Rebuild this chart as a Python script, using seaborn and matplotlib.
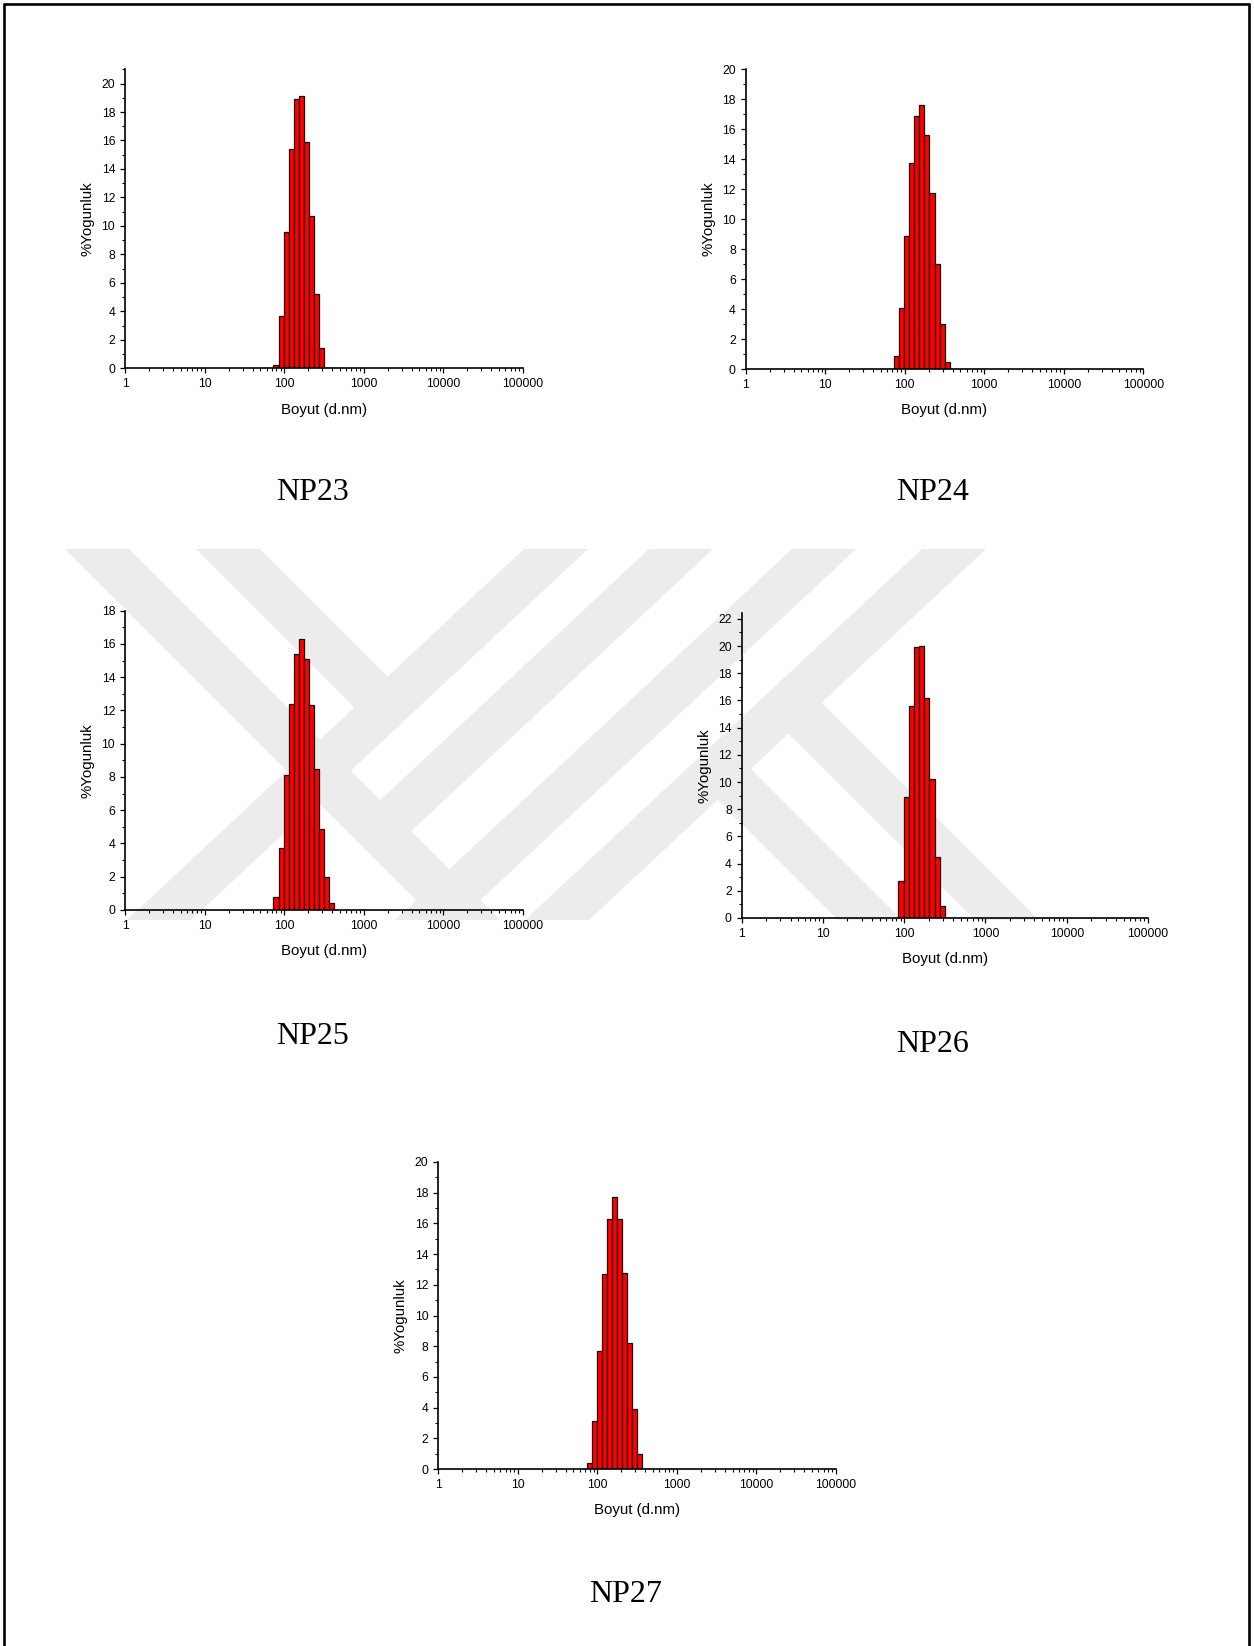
import numpy as np
import pandas as pd
import matplotlib
matplotlib.use("Agg")
import matplotlib.pyplot as plt
import matplotlib.transforms as mtransforms
from matplotlib.patches import Polygon
from matplotlib.lines import Line2D
from matplotlib.ticker import LogLocator, MultipleLocator, FuncFormatter, NullFormatter, FixedLocator
import seaborn as sns

# ---------------- data ----------------
size_nm = [68.06, 78.82, 91.28, 105.7, 122.4, 141.8, 164.2, 190.1, 220.2, 255.0, 295.3, 342.0, 396.1, 458.7]
np23 = [0, 0.2, 3.7, 9.6, 15.4, 18.9, 19.1, 15.9, 10.7, 5.2, 1.4, 0, 0, 0]
np24 = [0, 0.9, 4.1, 8.9, 13.7, 16.9, 17.6, 15.6, 11.7, 7.0, 3.0, 0.5, 0, 0]
np25 = [0, 0.8, 3.7, 8.1, 12.4, 15.4, 16.3, 15.1, 12.3, 8.5, 4.9, 2.0, 0.4, 0]
np26 = [0, 0, 2.7, 8.9, 15.6, 19.9, 20.0, 16.2, 10.2, 4.5, 0.9, 0, 0, 0]
np27 = [0, 0.4, 3.1, 7.7, 12.7, 16.3, 17.7, 16.3, 12.8, 8.2, 3.9, 1.0, 0, 0]
sample_names = ["NP23", "NP24", "NP25", "NP26", "NP27"]
y_max = [21, 20, 18, 22.45, 20]
x_ticks = [1, 10, 100, 1000, 10000, 100000]
x_label = "Boyut (d.nm)"
y_label = "%Yogunluk"

# ---------------- style ----------------
sns.set_theme(style="ticks")
plt.rcParams["font.family"] = ["Liberation Sans", "DejaVu Sans"]

W, H = 1254, 1646
fig = plt.figure(figsize=(W / 100, H / 100), dpi=100)
fig.patch.set_facecolor("white")
px = mtransforms.Affine2D().scale(1 / W, -1 / H).translate(0, 1) + fig.transFigure

# ---------------- watermark (faint background logo), pixel coordinates ----------------
wm = "#ececec"
YT, YB = 549, 920
BW = 64          # horizontal band width
SD, SU = 1.0, -1.07   # slopes dx/dy of "\" and "/" bands

def long_band(xc, s):
    h = BW / 2
    return [(xc - h, YT), (xc + h, YT), (xc + h + s * (YB - YT), YB), (xc - h + s * (YB - YT), YB)]

def short_band(xc, s, host_xc, host_s):
    # band from the top edge that stops on the centre line of a host band
    h = BW / 2
    pts = [(xc - h, YT), (xc + h, YT)]
    ends = []
    for x0 in (xc + h, xc - h):
        t = (host_xc - x0) / (s - host_s)
        ends.append((x0 + s * t, YT + t))
    return pts + ends

def arm(xb, host_xc, host_s):
    # "\" band rising from the bottom edge up to the centre line of a host band
    h = BW / 2
    pts = []
    for x0 in (xb - h, xb + h):
        # x = x0 + SD*(y - YB) ; host x = host_xc + host_s*(y - YT)
        y = (host_xc - host_s * YT - x0 + SD * YB) / (SD - host_s)
        pts.append((x0 + SD * (y - YB), y))
    return [pts[0], pts[1], (xb + h, YB), (xb - h, YB)]

band_centres = {"a": 97, "b": 228, "c": 556, "d": 681, "e": 824, "f": 954}
shapes = [
    long_band(band_centres["a"], SD),
    short_band(band_centres["b"], SD, band_centres["c"], SU),
    long_band(band_centres["c"], SU),
    short_band(band_centres["d"], SU, band_centres["a"], SD),
    long_band(band_centres["e"], SU),
    long_band(band_centres["f"], SU),
    arm(1007, band_centres["f"], SU),
    arm(870, band_centres["f"], SU),
]
for s in shapes:
    fig.add_artist(Polygon(s, closed=True, transform=px, facecolor=wm, edgecolor="none", zorder=-10))

# page border
for (xs, ys) in [([4, 4], [4, H + 5]), ([1249, 1249], [4, H + 5]), ([4, 1249], [4, 4])]:
    fig.add_artist(Line2D(xs, ys, transform=px, color="black", lw=1.9, zorder=5))

# axes rectangles in pixel coordinates: left, top, right, bottom
rects = [
    (125, 69.3, 523, 368.3),
    (745.7, 69, 1143.3, 369),
    (125, 610.7, 523, 910),
    (741.7, 612.7, 1148, 918),
    (438.3, 1162, 836, 1469),
]
label_pos = [(313, 493), (933, 493), (313, 1036), (933, 1044), (626, 1595)]
series = [np23, np24, np25, np26, np27]

logc = np.log10(np.array(size_nm))
step = np.mean(np.diff(logc))
edges = list(np.concatenate([logc - step / 2, [logc[-1] + step / 2]]))

for i, vals in enumerate(series):
    l, t, r, b = rects[i]
    ax = fig.add_axes([l / W, 1 - b / H, (r - l) / W, (b - t) / H])
    ax.set_facecolor("none")
    df = pd.DataFrame({"size": size_nm, "pct": vals})
    df = df[df["pct"] > 0]
    sns.histplot(data=df, x="size", weights="pct", bins=edges, log_scale=True,
                 color="#ff0000", edgecolor="#1a0000", linewidth=0.9, alpha=1.0, ax=ax)
    ax.set_xlim(1, 100000)
    ax.set_ylim(0, y_max[i])
    ax.xaxis.set_major_locator(FixedLocator(x_ticks))
    ax.xaxis.set_major_formatter(FuncFormatter(lambda v, p: f"{v:.0f}"))
    ax.xaxis.set_minor_locator(LogLocator(base=10, subs=np.arange(2, 10), numticks=50))
    ax.xaxis.set_minor_formatter(NullFormatter())
    ax.yaxis.set_major_locator(MultipleLocator(2))
    ax.yaxis.set_minor_locator(MultipleLocator(1))
    for sp in ["top", "right"]:
        ax.spines[sp].set_visible(False)
    for sp in ["left", "bottom"]:
        ax.spines[sp].set_linewidth(1.2)
        ax.spines[sp].set_color("black")
    ax.tick_params(axis="both", which="major", direction="out", length=3.6, width=0.9,
                   labelsize=8.7, pad=3.5, colors="black")
    ax.tick_params(axis="both", which="minor", direction="out", length=2.2, width=0.8, colors="black")
    ax.set_xlabel(x_label, fontsize=10.8, labelpad=9, color="black")
    ax.set_ylabel(y_label, fontsize=10.8, labelpad=5, color="black")
    ax.grid(False)
    x, y = label_pos[i]
    fig.text(x / W, 1 - y / H, sample_names[i], ha="center", va="center",
             fontsize=23, family=["Liberation Serif", "DejaVu Serif"], color="black")

fig.savefig("out.png", dpi=100, facecolor="white")
